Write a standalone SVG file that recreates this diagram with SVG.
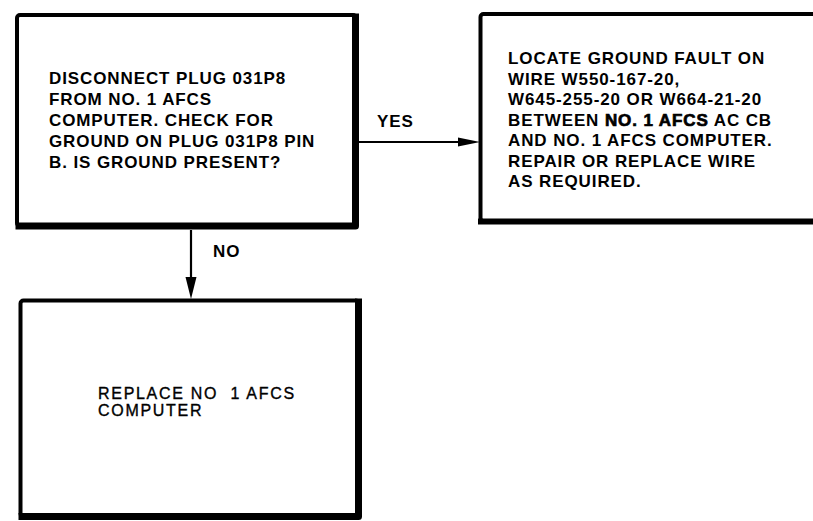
<svg xmlns="http://www.w3.org/2000/svg" width="813" height="521" viewBox="0 0 813 521">
<style>
.box{fill:#fff;stroke:#000;stroke-width:4;}
.sh{fill:none;stroke:#000;stroke-linejoin:round;stroke-linecap:square;}
.t{font-family:"Liberation Sans",Arial,Helvetica,sans-serif;font-weight:bold;font-size:17px;letter-spacing:0.9px;fill:#000;}
.r{font-family:"Liberation Sans",Arial,Helvetica,sans-serif;font-weight:normal;font-size:16px;letter-spacing:1.7px;fill:#000;white-space:pre;stroke:#000;stroke-width:0.35px;}
.hv{stroke:#000;stroke-width:0.7px;}
.ln{stroke:#000;stroke-width:2.2;fill:none;}
</style>
<rect width="813" height="521" fill="#fff"/>
<g id="node-check">
<rect class="box" x="17" y="15" width="339" height="211" rx="3"/>
<path class="sh" d="M355.5,17 V226 H19" stroke-width="7"/>
<text class="t" x="49" y="84">DISCONNECT PLUG 031P8</text>
<text class="t" x="49" y="105">FROM NO. 1 AFCS</text>
<text class="t" x="49" y="126">COMPUTER. CHECK FOR</text>
<text class="t" x="49" y="147">GROUND ON PLUG 031P8 PIN</text>
<text class="t" x="49" y="168">B. IS GROUND PRESENT?</text>
</g>
<g id="node-locate">
<rect class="box" x="480.5" y="14" width="360" height="207" rx="3" stroke-width="3"/>
<path class="sh" d="M481,221.5 H830" stroke-width="6"/>
<text class="t" x="508" y="64">LOCATE GROUND FAULT ON</text>
<text class="t" x="508" y="84.5">WIRE W550-167-20,</text>
<text class="t" x="508" y="105">W645-255-20 OR W664-21-20</text>
<text class="t" x="508" y="125.5">BETWEEN <tspan class="hv">NO. 1 AFCS</tspan> AC CB</text>
<text class="t" x="508" y="146">AND NO. 1 AFCS COMPUTER.</text>
<text class="t" x="508" y="166.5">REPAIR OR REPLACE WIRE</text>
<text class="t" x="508" y="187">AS REQUIRED.</text>
</g>
<g id="node-replace">
<rect class="box" x="20.5" y="300.5" width="338" height="216" rx="3" stroke-width="3.5"/>
<path class="sh" d="M358.5,302 V516.5 H22" stroke-width="7"/>
<text class="r" x="98" y="399">REPLACE NO  1 AFCS</text>
<text class="r" x="98" y="416">COMPUTER</text>
</g>
<g id="connectors">
<line class="ln" x1="359" y1="142" x2="466" y2="142"/>
<polygon points="480,142 458,137.5 458,146.5" fill="#000"/>
<text class="t" x="377" y="127" letter-spacing="0">YES</text>
<line class="ln" x1="191" y1="230" x2="191" y2="285"/>
<polygon points="191,299 185.5,277 196.5,277" fill="#000"/>
<text class="t" x="213" y="257" letter-spacing="0">NO</text>
</g>
</svg>
